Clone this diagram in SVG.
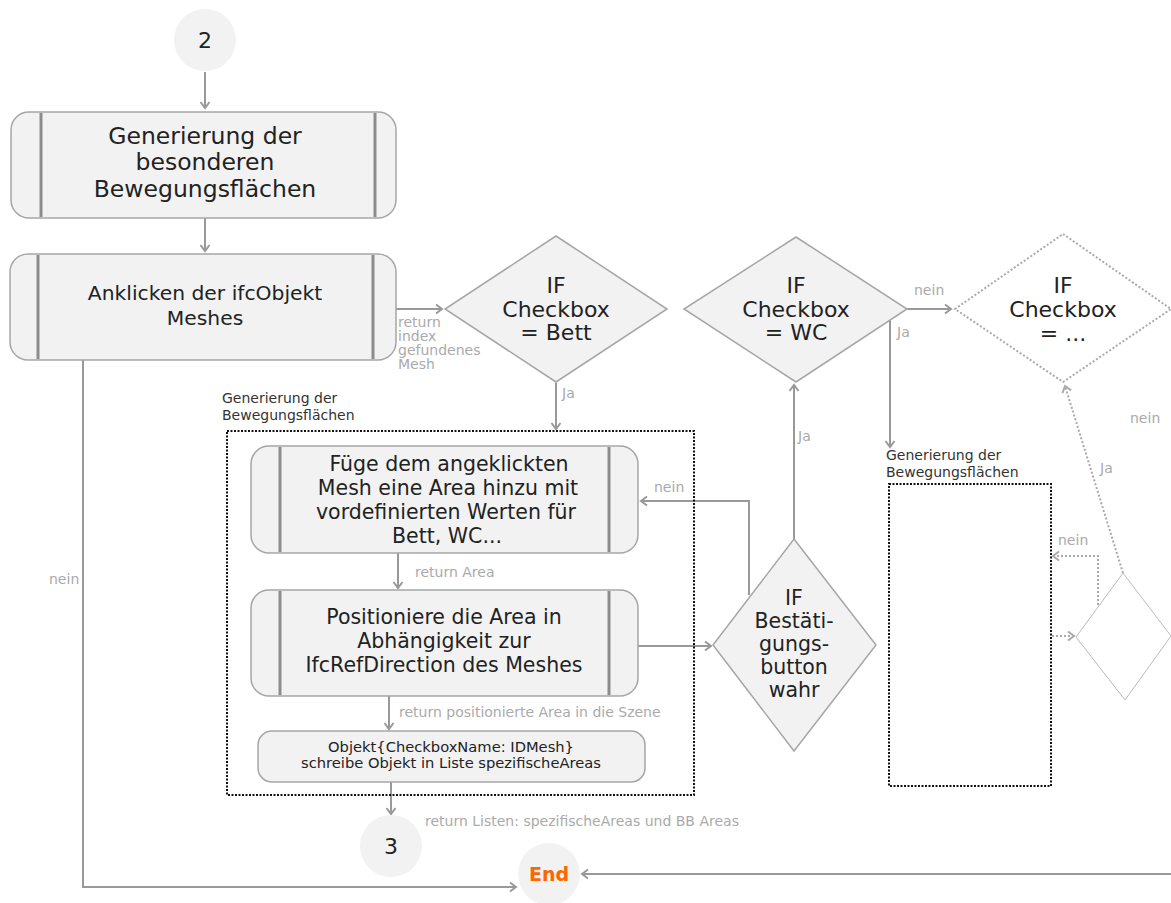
<svg xmlns="http://www.w3.org/2000/svg" width="1171" height="903" viewBox="0 0 1171 903">
<style>
.proc{fill:#f2f2f2;stroke:#a6a6a6;stroke-width:1.5}
.bar{stroke:#8c8c8c;stroke-width:3}
.dec{fill:#f2f2f2;stroke:#a6a6a6;stroke-width:1.5}
.circ{fill:#f2f2f2}
.t{font-family:"DejaVu Sans","Liberation Sans",sans-serif;fill:#222;text-anchor:middle}
.lbl{font-family:"DejaVu Sans","Liberation Sans",sans-serif;fill:#aaa;font-size:14px}
.glbl{font-family:"DejaVu Sans","Liberation Sans",sans-serif;fill:#333;font-size:14px}
.c{fill:none;stroke:#999;stroke-width:2}
.cd{fill:none;stroke:#aaa;stroke-width:2;stroke-dasharray:2 2}
.grp{fill:none;stroke:#111;stroke-width:2;stroke-dasharray:2 1.5}
</style>
<defs>
<marker id="ah" markerUnits="userSpaceOnUse" markerWidth="12" markerHeight="12" refX="9" refY="6" orient="auto">
<path d="M3,1.5 L9,6 L3,10.5" fill="none" stroke="#999" stroke-width="2"/>
</marker>
<marker id="ahl" markerUnits="userSpaceOnUse" markerWidth="12" markerHeight="12" refX="9" refY="6" orient="auto">
<path d="M3,1.5 L9,6 L3,10.5" fill="none" stroke="#aaa" stroke-width="2"/>
</marker>
</defs>
<rect width="1171" height="903" fill="#fff"/>

<g id="connectors">
<path class="c" d="M205,72 V108" marker-end="url(#ah)"/>
<path class="c" d="M205,218 V251" marker-end="url(#ah)"/>
<path class="c" d="M396,309 H442" marker-end="url(#ah)"/>
<path class="c" d="M556,383 V429" marker-end="url(#ah)"/>
<path class="c" d="M398,553 V588" marker-end="url(#ah)"/>
<path class="c" d="M389,696 V729" marker-end="url(#ah)"/>
<path class="c" d="M391,782 V814" marker-end="url(#ah)"/>
<path class="c" d="M83,360 V887 H516" marker-end="url(#ah)"/>
<path class="c" d="M1171,874 H582" marker-end="url(#ah)"/>
<path class="c" d="M638,646 H711" marker-end="url(#ah)"/>
<path class="c" d="M749,595 V501 H641" marker-end="url(#ah)"/>
<path class="c" d="M794,539 V385" marker-end="url(#ah)"/>
<path class="c" d="M907,309 H951" marker-end="url(#ah)"/>
<path class="c" d="M890,319 V447" marker-end="url(#ah)"/>
<path class="cd" d="M1123,573 L1065,386" marker-end="url(#ahl)"/>
<path class="cd" d="M1098,605 V556 H1053" marker-end="url(#ahl)"/>
<path class="cd" d="M1052,636 H1074" marker-end="url(#ahl)"/>
<text class="lbl" x="398" y="327">return</text>
<text class="lbl" x="398" y="341">index</text>
<text class="lbl" x="398" y="355">gefundenes</text>
<text class="lbl" x="398" y="369">Mesh</text>
<text class="lbl" x="562" y="398">Ja</text>
<text class="lbl" x="415" y="577">return Area</text>
<text class="lbl" x="399" y="717">return positionierte Area in die Szene</text>
<text class="lbl" x="425" y="826">return Listen: spezifischeAreas und BB Areas</text>
<text class="lbl" x="49" y="584">nein</text>
<text class="lbl" x="654" y="492">nein</text>
<text class="lbl" x="798" y="441">Ja</text>
<text class="lbl" x="914" y="295">nein</text>
<text class="lbl" x="897" y="337">Ja</text>
<text class="lbl" x="1130" y="423">nein</text>
<text class="lbl" x="1100" y="473">Ja</text>
<text class="lbl" x="1058" y="545">nein</text>
</g>

<g id="start2">
<circle class="circ" cx="205" cy="40" r="31"/>
<text class="t" x="205" y="48" font-size="22">2</text>
</g>

<g id="box-generierung">
<rect class="proc" x="11" y="112" width="385" height="106" rx="18"/>
<line class="bar" x1="41" y1="113" x2="41" y2="217"/>
<line class="bar" x1="375" y1="113" x2="375" y2="217"/>
<text class="t" font-size="23.5"><tspan x="205" y="144">Generierung der</tspan><tspan x="205" y="170">besonderen</tspan><tspan x="205" y="197">Bewegungsflächen</tspan></text>
</g>

<g id="box-anklicken">
<rect class="proc" x="10" y="254" width="386" height="106" rx="18"/>
<line class="bar" x1="38" y1="255" x2="38" y2="359"/>
<line class="bar" x1="373" y1="255" x2="373" y2="359"/>
<text class="t" font-size="20.3"><tspan x="205" y="300">Anklicken der ifcObjekt</tspan><tspan x="205" y="325">Meshes</tspan></text>
</g>

<g id="dec-bett">
<polygon class="dec" points="556,236 667,309 556,382 445,309"/>
<text class="t" font-size="22"><tspan x="556" y="293">IF</tspan><tspan x="556" y="317">Checkbox</tspan><tspan x="556" y="340">= Bett</tspan></text>
</g>

<g id="group-bewegung">
<rect class="grp" x="227" y="431" width="467" height="364"/>
<text class="glbl" x="222" y="403">Generierung der</text>
<text class="glbl" x="222" y="420">Bewegungsflächen</text>
</g>

<g id="box-fuege">
<rect class="proc" x="251" y="446" width="387" height="107" rx="18"/>
<line class="bar" x1="280" y1="447" x2="280" y2="552"/>
<line class="bar" x1="609" y1="447" x2="609" y2="552"/>
<text class="t" font-size="20.5"><tspan x="449" y="471">Füge dem angeklickten</tspan><tspan x="448" y="495">Mesh eine Area hinzu mit</tspan><tspan x="446" y="519">vordefinierten Werten für</tspan><tspan x="447" y="543">Bett, WC...</tspan></text>
</g>

<g id="box-positioniere">
<rect class="proc" x="251" y="590" width="387" height="106" rx="18"/>
<line class="bar" x1="280" y1="591" x2="280" y2="695"/>
<line class="bar" x1="609" y1="591" x2="609" y2="695"/>
<text class="t" font-size="20.5"><tspan x="444" y="624">Positioniere die Area in</tspan><tspan x="444" y="648">Abhängigkeit zur</tspan><tspan x="444" y="672">IfcRefDirection des Meshes</tspan></text>
</g>

<g id="box-objekt">
<rect class="proc" x="258" y="731" width="387" height="51" rx="14"/>
<text class="t" font-size="14.7"><tspan x="451" y="752">Objekt{CheckboxName: IDMesh}</tspan><tspan x="451" y="768">schreibe Objekt in Liste spezifischeAreas</tspan></text>
</g>

<g id="conn3">
<circle class="circ" cx="391" cy="846" r="31"/>
<text class="t" x="391" y="854" font-size="22">3</text>
</g>

<g id="end">
<circle class="circ" cx="549" cy="874" r="31"/>
<text x="549" y="881" text-anchor="middle" font-family="'DejaVu Sans','Liberation Sans',sans-serif" font-weight="bold" font-size="19" fill="#ff6600">End</text>
</g>

<g id="dec-bestaetigung">
<polygon class="dec" points="794,539 876,645 794,751 713,645"/>
<text class="t" font-size="20.5"><tspan x="794" y="605">IF</tspan><tspan x="794" y="628">Bestäti-</tspan><tspan x="794" y="651">gungs-</tspan><tspan x="794" y="674">button</tspan><tspan x="794" y="697">wahr</tspan></text>
</g>

<g id="dec-wc">
<polygon class="dec" points="796,237 907,309 796,382 684,309"/>
<text class="t" font-size="22"><tspan x="796" y="293">IF</tspan><tspan x="796" y="317">Checkbox</tspan><tspan x="796" y="340">= WC</tspan></text>
</g>

<g id="group-bewegung2">
<rect class="grp" x="889" y="484" width="162" height="302"/>
<text class="glbl" x="886" y="460">Generierung der</text>
<text class="glbl" x="886" y="477">Bewegungsflächen</text>
</g>

<g id="dec-checkbox-more">
<polygon points="1063,234 1171,309 1063,382 955,309" fill="#fff" stroke="#aaa" stroke-width="2" stroke-dasharray="2 2"/>
<text class="t" font-size="22"><tspan x="1063" y="293">IF</tspan><tspan x="1063" y="317">Checkbox</tspan><tspan x="1063" y="341">= ...</tspan></text>
</g>

<g id="dec-small">
<polygon points="1123,573 1171,636 1125,700 1076,637" fill="#fff" stroke="#bbb" stroke-width="1"/>
</g>
</svg>
